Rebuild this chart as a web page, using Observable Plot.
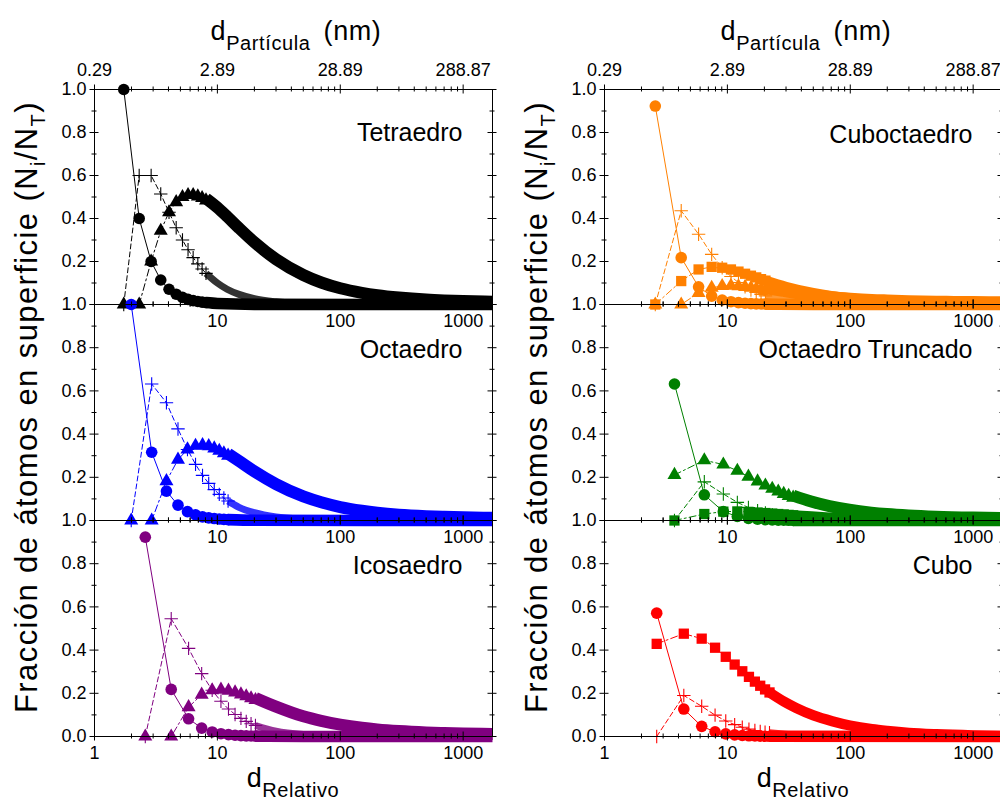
<!DOCTYPE html>
<html><head><meta charset="utf-8">
<script src="https://cdn.jsdelivr.net/npm/d3@7"></script>
<script src="https://cdn.jsdelivr.net/npm/@observablehq/plot@0.6"></script>
<style>
html,body{margin:0;padding:0;background:#fff;}
#root{position:relative;width:1000px;height:801px;overflow:hidden;background:#fff;font-family:"Liberation Sans",Arial,sans-serif;}
</style></head><body><div id="root"></div>
<script>
// ---------------- axis ticks / labels ----------------
const xDomain = [1, 1733];
const xMajor = [1, 10, 100, 1000];
const xMinor = [2,3,4,5,6,7,8,9,20,30,40,50,60,70,80,90,200,300,400,500,600,700,800,900];
const yMajor = [0, 0.2, 0.4, 0.6, 0.8, 1.0];
const yMinor = [0.1, 0.3, 0.5, 0.7, 0.9];
const yTickLabels = ["0.0", "0.2", "0.4", "0.6", "0.8", "1.0"];
const topTickLabels = ["0.29", "2.89", "28.89", "288.87"];
const bottomTickLabels = ["1", "10", "100", "1000"];
const panelNames = ["Tetraedro", "Octaedro", "Icosaedro", "Cuboctaedro", "Octaedro Truncado", "Cubo"];

// ---------------- Tetraedro ----------------
const tetraX    = [1.73, 2.31, 2.89, 3.46, 4.04, 4.62, 5.20, 5.77, 6.35, 6.93, 7.51, 8.08];
const tetraVert = [1.0, 0.40, 0.20, 0.114, 0.071, 0.048, 0.033, 0.024, 0.018, 0.014, 0.011, 0.009];
const tetraEdge = [0, 0.60, 0.60, 0.514, 0.429, 0.357, 0.30, 0.255, 0.218, 0.189, 0.165, 0.145];
const tetraFace = [0, 0, 0.20, 0.343, 0.429, 0.476, 0.50, 0.509, 0.509, 0.503, 0.495, 0.484];
const tetraVertTail = [[8.08,0.009],[10,0.0045],[20,0.0006],[1733,0]];
const tetraEdgeTail = [[8.08,0.145],[10,0.10],[12,0.071],[15,0.047],[20,0.027],[30,0.0126],[50,0.0046],[100,0.0012],[300,0.0001],[1733,0]];
const tetraFaceTail = [[8.08,0.484],[10,0.442],[12,0.40],[15,0.346],[20,0.280],[30,0.201],[50,0.128],[70,0.093],[100,0.066],[150,0.045],[200,0.034],[300,0.023],[500,0.0137],[700,0.0098],[1000,0.0069],[1733,0.004]];

// ---------------- Octaedro ----------------
const octaX    = [1.99, 2.92, 3.85, 4.78, 5.71, 6.64, 7.57, 8.50, 9.43, 10.36, 11.29, 12.22];
const octaVert = [1.0, 0.316, 0.136, 0.071, 0.041, 0.026, 0.017, 0.012, 0.009, 0.0067, 0.0052, 0.0041];
const octaEdge = [0, 0.632, 0.545, 0.424, 0.329, 0.260, 0.209, 0.172, 0.143, 0.121, 0.104, 0.090];
const octaFace = [0, 0, 0.182, 0.282, 0.329, 0.346, 0.349, 0.344, 0.334, 0.323, 0.311, 0.300];
const octaVertTail = [[12.22,0.0041],[20,0.001],[1733,0]];
const octaEdgeTail = [[12.22,0.090],[15,0.061],[20,0.036],[30,0.016],[50,0.006],[100,0.0015],[300,0.0002],[1733,0]];
const octaFaceTail = [[12.22,0.300],[15,0.266],[20,0.218],[30,0.159],[50,0.102],[70,0.075],[100,0.053],[150,0.036],[200,0.027],[300,0.018],[500,0.011],[700,0.0079],[1000,0.0056],[1733,0.0032]];

// ---------------- Icosaedro ----------------
const icoX    = [2.59, 4.21, 5.83, 7.45, 9.07, 10.69, 12.31, 13.93, 15.55, 17.17, 18.79, 20.41];
const icoVert = [0.923, 0.218, 0.082, 0.039, 0.021, 0.013, 0.0085, 0.0058, 0.0042, 0.0031, 0.0024, 0.0018];
const icoEdge = [0, 0.545, 0.408, 0.291, 0.214, 0.163, 0.127, 0.102, 0.084, 0.070, 0.059, 0.051];
const icoFace = [0, 0, 0.136, 0.194, 0.214, 0.217, 0.212, 0.204, 0.195, 0.186, 0.177, 0.169];
const icoVertTail = [[20.41,0.0018],[50,0.0001],[1733,0]];
const icoEdgeTail = [[20.41,0.051],[30,0.0244],[50,0.009],[100,0.0024],[300,0.0003],[1733,0]];
const icoFaceTail = [[20.41,0.169],[30,0.129],[50,0.084],[70,0.063],[100,0.0455],[150,0.031],[200,0.0235],[300,0.0159],[500,0.0096],[700,0.0069],[1000,0.0049],[1733,0.0028]];

// ---------------- Cuboctaedro ----------------
const cuboX    = [2.59, 4.21, 5.83, 7.45, 9.07, 10.69, 12.31, 13.93, 15.55, 17.17, 18.79, 20.41];
const cuboVert = [0.923, 0.218, 0.082, 0.039, 0.021, 0.013, 0.0085, 0.0058, 0.0042, 0.0031, 0.0024, 0.0018];
const cuboEdge = [0, 0.436, 0.327, 0.233, 0.171, 0.130, 0.102, 0.082, 0.067, 0.056, 0.047, 0.040];
const cuboSq   = [0, 0.109, 0.163, 0.175, 0.171, 0.163, 0.153, 0.143, 0.134, 0.126, 0.118, 0.111];
const cuboTri  = [0, 0, 0.054, 0.078, 0.086, 0.087, 0.085, 0.082, 0.078, 0.074, 0.071, 0.067];
const cuboVertTail = [[20.41,0.0018],[50,0.0001],[1733,0]];
const cuboEdgeTail = [[20.41,0.040],[30,0.0195],[50,0.0072],[100,0.0019],[300,0.0002],[1733,0]];
const cuboSqTail  = [[20.41,0.111],[30,0.082],[50,0.053],[70,0.039],[100,0.028],[150,0.019],[200,0.014],[300,0.0096],[500,0.0058],[700,0.0042],[1000,0.0029],[1733,0.0017]];
const cuboTriTail = [[20.41,0.067],[30,0.052],[50,0.034],[70,0.025],[100,0.018],[150,0.012],[200,0.0094],[300,0.0063],[500,0.0039],[700,0.0028],[1000,0.0019],[1733,0.0011]];

// ---------------- Octaedro Truncado ----------------
const toX    = [3.71, 6.49, 9.27, 12.05, 14.83, 17.61, 20.39, 23.17, 25.95, 28.73, 31.51, 34.29];
const toVert = [0.632, 0.119, 0.041, 0.019, 0.010, 0.006, 0.0038, 0.0026, 0.0019, 0.0014, 0.001, 0.0008];
const toEdge = [0, 0.179, 0.123, 0.084, 0.060, 0.045, 0.0345, 0.027, 0.022, 0.018, 0.0155, 0.013];
const toSq   = [0, 0.030, 0.041, 0.042, 0.040, 0.037, 0.0345, 0.032, 0.030, 0.028, 0.026, 0.024];
const toHex  = [0.211, 0.279, 0.259, 0.230, 0.203, 0.181, 0.162, 0.147, 0.134, 0.123, 0.114, 0.106];
const toVertTail = [[34.29,0.0008],[1733,0]];
const toEdgeTail = [[34.29,0.013],[48.2,0.0069],[67.65,0.0036],[98.2,0.0018],[300,0.0002],[1733,0]];
const toSqTail  = [[34.29,0.024],[48.2,0.0185],[67.65,0.0138],[98.2,0.0098],[148.3,0.0065],[198.3,0.005],[298.4,0.0034],[498.5,0.002],[999,0.001],[1733,0.0006]];
const toHexTail = [[34.29,0.106],[48.2,0.0787],[67.65,0.0576],[98.2,0.0406],[148.3,0.0273],[198.3,0.0205],[298.4,0.0138],[498.5,0.0083],[999,0.0042],[1733,0.0024]];

// ---------------- Cubo ----------------
const cubeX    = [2.66, 4.42, 6.18, 7.94, 9.70, 11.46, 13.22, 14.98, 16.74, 18.50, 20.26, 22.02];
const cubeVert = [0.571, 0.127, 0.047, 0.022, 0.012, 0.0073, 0.0047, 0.0033, 0.0023, 0.0017, 0.0013, 0.001];
const cubeEdge = [0, 0.190, 0.140, 0.099, 0.072, 0.055, 0.043, 0.034, 0.028, 0.023, 0.020, 0.017];
const cubeFace = [0.429, 0.476, 0.453, 0.411, 0.369, 0.333, 0.302, 0.276, 0.254, 0.235, 0.218, 0.204];
const cubeVertTail = [[22.02,0.001],[1733,0]];
const cubeEdgeTail = [[22.02,0.017],[36.1,0.0065],[50.18,0.0033],[99.46,0.0008],[1733,0]];
const cubeFaceTail = [[22.02,0.204],[29.06,0.161],[36.1,0.133],[50.18,0.098],[71.3,0.071],[99.46,0.051],[150.5,0.034],[199.8,0.026],[300.1,0.017],[500.7,0.0105],[1000.6,0.0053],[1733,0.0031]];

// ---------------- styles ----------------
const STYLE = {
  vert: {symbol: "circle",   r: 5.8, filled: true,  dash: null,      band: 11.6, bandDy: 0,  bandOpacity: 1},
  edge: {symbol: "plus",     r: 4.4, filled: false, dash: "5,3",     band: 7,    bandDy: 0,  bandOpacity: 0.8},
  sq:   {symbol: "square",   r: 5.8, filled: true,  dash: "7,3,2,3", band: 10.3, bandDy: 0,  bandOpacity: 1},
  tri:  {symbol: "triangle", r: 5.2, filled: true,  dash: "7,3,2,3", band: 12,   bandDy: -2, bandOpacity: 1}
};

const panels = [
  {col: 0, row: 0, name: panelNames[0], color: "#000000", x: tetraX, series: [
    {kind: "vert", ys: tetraVert, tail: tetraVertTail},
    {kind: "edge", ys: tetraEdge, tail: tetraEdgeTail},
    {kind: "tri",  ys: tetraFace, tail: tetraFaceTail}]},
  {col: 0, row: 1, name: panelNames[1], color: "#0000ff", x: octaX, series: [
    {kind: "vert", ys: octaVert, tail: octaVertTail},
    {kind: "edge", ys: octaEdge, tail: octaEdgeTail},
    {kind: "tri",  ys: octaFace, tail: octaFaceTail}]},
  {col: 0, row: 2, name: panelNames[2], color: "#800080", x: icoX, series: [
    {kind: "vert", ys: icoVert, tail: icoVertTail},
    {kind: "edge", ys: icoEdge, tail: icoEdgeTail},
    {kind: "tri",  ys: icoFace, tail: icoFaceTail}]},
  {col: 1, row: 0, name: panelNames[3], color: "#ff8000", x: cuboX, series: [
    {kind: "vert", ys: cuboVert, tail: cuboVertTail},
    {kind: "edge", ys: cuboEdge, tail: cuboEdgeTail},
    {kind: "tri",  ys: cuboTri,  tail: cuboTriTail},
    {kind: "sq",   ys: cuboSq,   tail: cuboSqTail}]},
  {col: 1, row: 1, name: panelNames[4], color: "#008000", x: toX, series: [
    {kind: "vert", ys: toVert, tail: toVertTail},
    {kind: "edge", ys: toEdge, tail: toEdgeTail},
    {kind: "sq",   ys: toSq,   tail: toSqTail},
    {kind: "tri",  ys: toHex,  tail: toHexTail}]},
  {col: 1, row: 2, name: panelNames[5], color: "#ff0000", x: cubeX, series: [
    {kind: "vert", ys: cubeVert, tail: cubeVertTail},
    {kind: "edge", ys: cubeEdge, tail: cubeEdgeTail},
    {kind: "sq",   ys: cubeFace, tail: cubeFaceTail}]}
];

// ---------------- layout ----------------
const root = document.getElementById("root");
const FONT = "'Liberation Sans', Arial, Helvetica, sans-serif";
const frameLefts = [94, 604];
const frameTops = [89, 304, 520, 736];
const FW = 398;
const ML = 70, MR = 30, MT = 45, MB = 45;
const TK = 4.5, tk = 2.5;

// titles overlay
const ov = document.createElementNS("http://www.w3.org/2000/svg", "svg");
ov.setAttribute("width", 1000); ov.setAttribute("height", 801);
ov.style.position = "absolute"; ov.style.left = "0px"; ov.style.top = "0px";
ov.setAttribute("font-family", FONT);
let ovHtml = "";
for (let c = 0; c < 2; c++) {
  const cx = frameLefts[c] + FW / 2;
  ovHtml += `<text x="${cx + 3}" y="40" text-anchor="middle" font-size="27" letter-spacing="0.6"><tspan>d</tspan><tspan font-size="20" dy="10">Partícula</tspan><tspan dy="-10" dx="5"> (nm)</tspan></text>`;
  ovHtml += `<text x="${cx}" y="787" text-anchor="middle" font-size="27" letter-spacing="0.6"><tspan>d</tspan><tspan font-size="20" dy="10">Relativo</tspan></text>`;
  const yx = frameLefts[c] - 57;
  ovHtml += `<text transform="translate(${yx},407) rotate(-90)" text-anchor="middle" font-size="31" letter-spacing="1.4">Fracción de átomos en superficie (N<tspan font-size="20" dy="8">i</tspan><tspan dy="-8">/N</tspan><tspan font-size="20" dy="8">T</tspan><tspan dy="-8">)</tspan></text>`;
}
ov.innerHTML = ovHtml;
root.appendChild(ov);

function makePanel(p) {
  const FH = frameTops[p.row + 1] - frameTops[p.row];
  const marks = [];
  for (const s of p.series) {
    const st = STYLE[s.kind];
    const pts = p.x.map((x, i) => ({x, y: s.ys[i]}));
    marks.push(Plot.line(s.tail, {x: d => d[0], y: d => d[1], stroke: p.color, strokeWidth: st.band,
      strokeOpacity: st.bandOpacity, dy: st.bandDy, curve: "monotone-x", strokeLinecap: "butt", strokeLinejoin: "round"}));
    marks.push(Plot.line(pts, {x: "x", y: "y", stroke: p.color, strokeWidth: 1, strokeDasharray: st.dash || undefined}));
    marks.push(Plot.dot(pts, {x: "x", y: "y", symbol: st.symbol, r: st.r,
      fill: st.filled ? p.color : "none", stroke: st.filled ? "none" : p.color, strokeWidth: 1.1}));
  }
  // frame & ticks (crossing the frame)
  marks.push(Plot.frame({stroke: "black", strokeWidth: 1}));
  marks.push(Plot.tickX(xMajor, {x: d => d, stroke: "black", insetTop: FH - TK, insetBottom: -TK}));
  marks.push(Plot.tickX(xMajor, {x: d => d, stroke: "black", insetTop: -TK, insetBottom: FH - TK}));
  marks.push(Plot.tickX(xMinor, {x: d => d, stroke: "black", insetTop: FH - tk, insetBottom: -tk}));
  marks.push(Plot.tickX(xMinor, {x: d => d, stroke: "black", insetTop: -tk, insetBottom: FH - tk}));
  marks.push(Plot.tickY(yMajor, {y: d => d, stroke: "black", insetLeft: -TK, insetRight: FW - TK}));
  marks.push(Plot.tickY(yMajor, {y: d => d, stroke: "black", insetLeft: FW - TK, insetRight: -TK}));
  marks.push(Plot.tickY(yMinor, {y: d => d, stroke: "black", insetLeft: -tk, insetRight: FW - tk}));
  marks.push(Plot.tickY(yMinor, {y: d => d, stroke: "black", insetLeft: FW - tk, insetRight: -tk}));
  // y tick labels
  const yIdx = yMajor.map((v, i) => i).filter(i => p.row === 2 || i > 0);
  marks.push(Plot.text(yIdx, {y: i => yMajor[i], text: i => yTickLabels[i], frameAnchor: "left", dx: -8,
    textAnchor: "end", lineAnchor: "middle", fontSize: 18, fill: "black"}));
  // bottom x tick labels
  const xIdx = xMajor.map((v, i) => i).filter(i => p.row === 2 || i > 0);
  marks.push(Plot.text(xIdx, {x: i => xMajor[i], text: i => bottomTickLabels[i], frameAnchor: "bottom", dy: 17,
    lineAnchor: "middle", fontSize: 18, fill: "black"}));
  if (p.row === 0) {
    marks.push(Plot.text(xMajor.map((v, i) => i), {x: i => xMajor[i], text: i => topTickLabels[i], frameAnchor: "top", dy: -19,
      lineAnchor: "middle", fontSize: 18, fill: "black"}));
  }
  // panel name
  marks.push(Plot.text([p.name], {text: d => d, frameAnchor: "top-right", dx: -30, dy: p.row === 0 && p.col === 0 ? 51.5 : 53,
    textAnchor: "end", lineAnchor: "bottom", fontSize: 25, fill: "black"}));

  const svg = Plot.plot({
    width: FW + ML + MR, height: FH + MT + MB,
    marginLeft: ML, marginRight: MR, marginTop: MT, marginBottom: MB,
    x: {type: "log", domain: xDomain, axis: null},
    y: {domain: [0, 1], axis: null},
    style: {fontFamily: FONT, fontSize: "18px", background: "transparent", overflow: "visible", color: "black"},
    marks
  });
  svg.style.position = "absolute";
  svg.style.left = (frameLefts[p.col] - ML) + "px";
  svg.style.top = (frameTops[p.row] - MT) + "px";
  svg.style.maxWidth = "none";
  root.appendChild(svg);
}
for (const p of panels) makePanel(p);
</script></body></html>
